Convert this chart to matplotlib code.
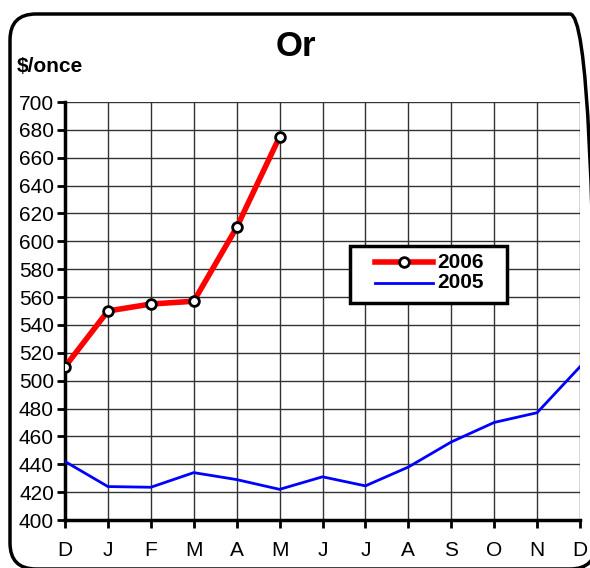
import matplotlib
matplotlib.use("Agg")
import matplotlib.pyplot as plt
from matplotlib.patches import FancyBboxPatch, Rectangle

plt.rcParams["font.family"] = ["Liberation Sans", "DejaVu Sans"]

MONTHS = ["D", "J", "F", "M", "A", "M", "J", "J", "A", "S", "O", "N", "D"]
GOLD_2006 = [510, 550, 555, 557, 610, 675]
GOLD_2005 = [442, 424, 423.5, 434, 429, 422, 431, 424.5, 438, 456, 470, 477, 510]
Y_TICKS = list(range(400, 701, 20))

W, H = 590, 568
fig = plt.figure(figsize=(W / 100, H / 100), dpi=100)

# rounded frame around the whole chart, corners kept circular in pixels
frame = FancyBboxPatch((10 / W, -1 / H), 586 / W, 555 / H,
                       boxstyle="round,pad=0,rounding_size=%f" % (26 / W),
                       mutation_aspect=W / H,
                       transform=fig.transFigure, fill=False,
                       edgecolor="black", linewidth=2.5, clip_on=False)
fig.patches.append(frame)

AX_L, AX_B, AX_W, AX_H = 65, 48, 515, 418
ax = fig.add_axes([AX_L / W, AX_B / H, AX_W / W, AX_H / H])
x = list(range(len(MONTHS)))

RED_STYLE = dict(color="#ff0000", linewidth=4)
MARK_STYLE = dict(marker="o", markersize=7, markerfacecolor="white",
                  markeredgecolor="black", markeredgewidth=2)
BLUE_STYLE = dict(color="#0000ff", linewidth=2)

ax.plot(x, GOLD_2005, zorder=3, **BLUE_STYLE)
ax.plot(x[:len(GOLD_2006)], GOLD_2006, zorder=4, **RED_STYLE, **MARK_STYLE)

ax.set_xlim(0, len(MONTHS) - 1)
ax.set_ylim(400, 700)
ax.set_xticks(x)
ax.set_xticklabels(MONTHS, fontsize=15)
ax.set_yticks(Y_TICKS)
ax.set_yticklabels([str(v) for v in Y_TICKS], fontsize=15)
ax.tick_params(axis="both", direction="out", length=6, width=2, pad=2)
ax.tick_params(axis="x", pad=9)
ax.grid(True, color="#333333", linewidth=1)
ax.set_axisbelow(True)

for side in ["top", "right"]:
    ax.spines[side].set_visible(False)
ax.spines["left"].set_linewidth(2.5)
ax.spines["bottom"].set_linewidth(2.5)


def px(xp, yp):
    # pixel (from top-left of figure) -> axes fraction
    return (xp - AX_L) / AX_W, (H - AX_B - yp) / AX_H


# legend box drawn by hand to match the boxy layout
bx0, by0 = px(350, 303)
bx1, by1 = px(507, 246)
ax.add_patch(Rectangle((bx0, by0), bx1 - bx0, by1 - by0, transform=ax.transAxes,
                       facecolor="white", edgecolor="black", linewidth=2.5,
                       clip_on=False, zorder=6))
for label, ypix, style, marker in [("2006", 262, RED_STYLE, True),
                                   ("2005", 283, BLUE_STYLE, False)]:
    lx0, ly = px(375, ypix)
    lx1, _ = px(433, ypix)
    ax.plot([lx0, lx1], [ly, ly], transform=ax.transAxes, clip_on=False,
            zorder=7, **style)
    if marker:
        ax.plot([(lx0 + lx1) / 2], [ly], transform=ax.transAxes, clip_on=False,
                zorder=8, linestyle="none", **MARK_STYLE)
    tx, _ = px(437, ypix)
    ax.text(tx, ly, label, transform=ax.transAxes, fontsize=15,
            fontweight="bold", ha="left", va="center", zorder=8)

fig.text(296 / W, 1 - 46 / H, "Or", fontsize=25, fontweight="bold",
         ha="center", va="center")
fig.text(17 / W, 1 - 67 / H, "$/once", fontsize=15, fontweight="bold",
         ha="left", va="center")

fig.savefig("out.png", dpi=100)
